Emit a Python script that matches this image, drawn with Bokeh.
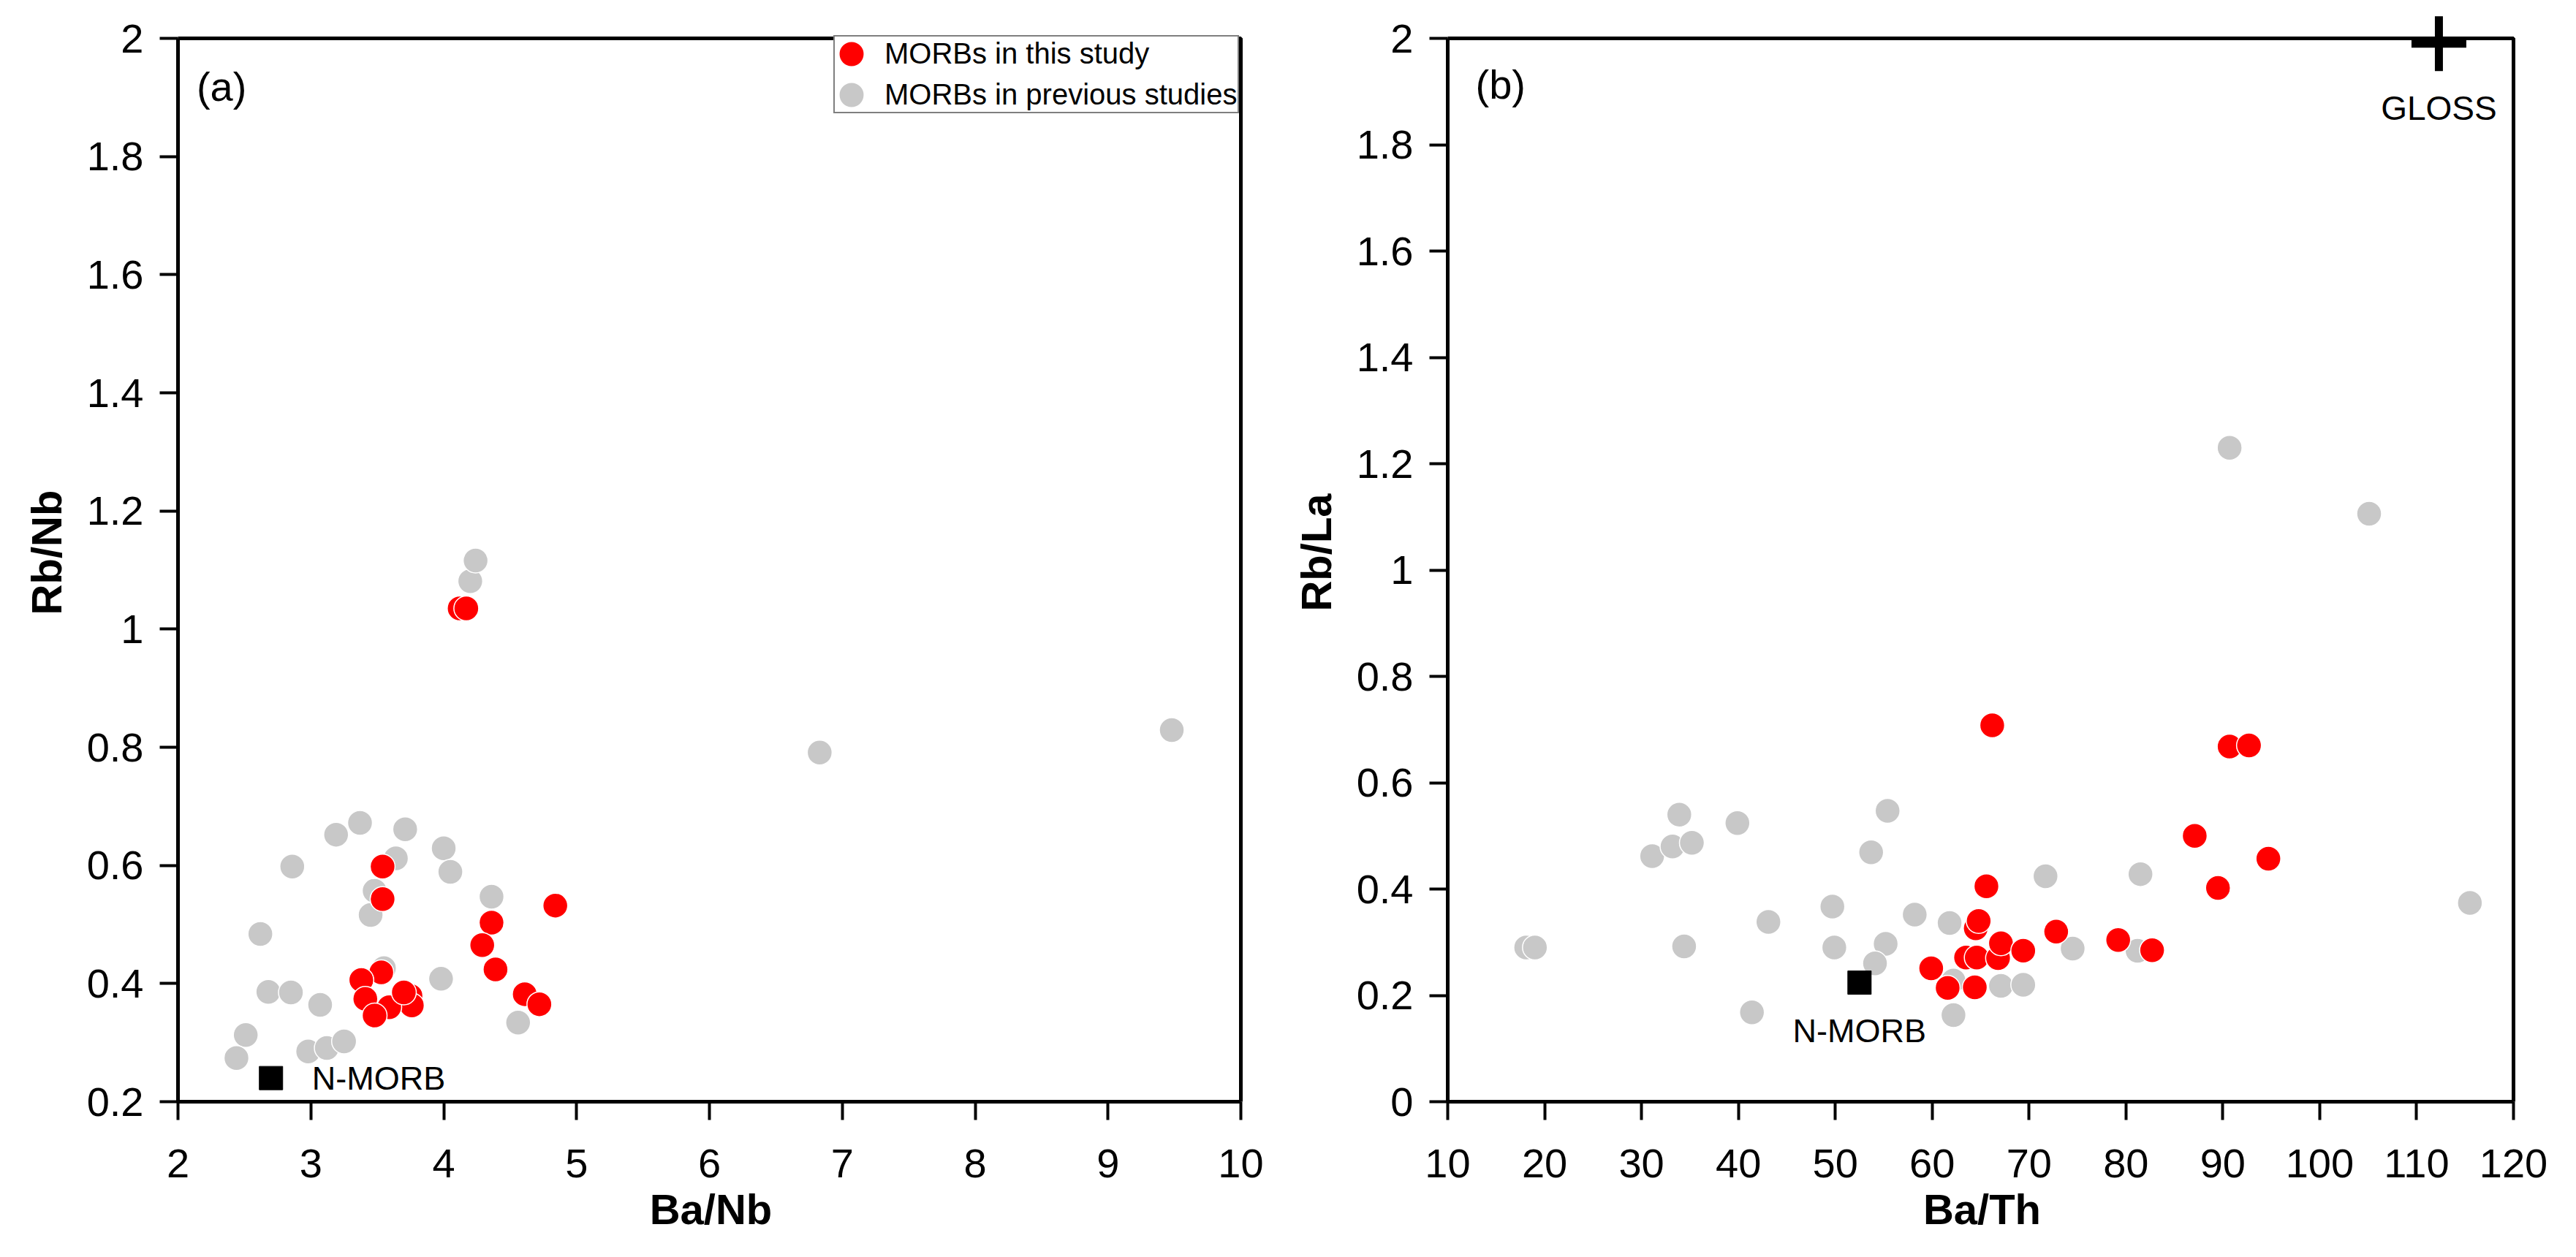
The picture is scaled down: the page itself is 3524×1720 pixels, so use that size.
from bokeh.plotting import figure
from bokeh.layouts import row
from bokeh.models import (ColumnDataSource, Legend, LegendItem, Label, FixedTicker,
                          CustomJSTickFormatter, Range1d, BoxAnnotation)
from bokeh.embed import file_html
from bokeh.resources import INLINE
from bokeh.core.properties import value

FONT = "Liberation Sans"
RED = "#FF0000"
GRAY = "#C8C8C8"

# ---------------- Panel (a): Ba/Nb vs Rb/Nb ----------------
a_prev_ba_nb = [3.37, 3.19, 3.71, 4.00, 3.64, 4.05, 2.86, 3.48, 3.45, 4.36, 2.62, 3.98, 3.55,
                2.68, 2.85, 3.07, 2.51, 2.44, 2.98, 3.12, 3.25, 4.56, 4.20, 4.24, 6.83, 9.48]
a_prev_rb_nb = [0.672, 0.652, 0.661, 0.629, 0.612, 0.589, 0.598, 0.557, 0.516, 0.547, 0.484, 0.408, 0.426,
                0.386, 0.385, 0.364, 0.313, 0.274, 0.285, 0.291, 0.302, 0.334, 1.081, 1.116, 0.791, 0.829]
a_this_ba_nb = [3.54, 3.54, 4.84, 4.36, 4.29, 4.39, 3.53, 3.38, 3.41, 3.75, 3.76, 3.59, 3.48,
                4.61, 4.72, 4.12, 4.17, 3.70]
a_this_rb_nb = [0.598, 0.543, 0.532, 0.503, 0.465, 0.424, 0.419, 0.406, 0.374, 0.379, 0.363, 0.360, 0.346,
                0.382, 0.365, 1.035, 1.035, 0.385]
nmorb_ba_nb = [2.70]
nmorb_rb_nb = [0.24]

a_x_ticks = [2, 3, 4, 5, 6, 7, 8, 9, 10]
a_x_labels = ["2", "3", "4", "5", "6", "7", "8", "9", "10"]
a_y_ticks = [0.2, 0.4, 0.6, 0.8, 1.0, 1.2, 1.4, 1.6, 1.8, 2.0]
a_y_labels = ["0.2", "0.4", "0.6", "0.8", "1", "1.2", "1.4", "1.6", "1.8", "2"]

# ---------------- Panel (b): Ba/Th vs Rb/La ----------------
b_prev_ba_th = [18.1, 19.0, 31.1, 33.2, 33.9, 35.2, 34.4, 39.9, 43.1, 41.4, 49.7, 49.9, 53.7, 55.4,
                55.2, 54.1, 58.2, 61.8, 62.2, 62.2, 67.1, 69.4, 71.7, 74.5, 81.5, 81.2, 90.7, 105.1, 115.5]
b_prev_rb_la = [0.290, 0.290, 0.462, 0.480, 0.540, 0.487, 0.292, 0.524, 0.338, 0.168, 0.367, 0.290, 0.469, 0.547,
                0.297, 0.260, 0.352, 0.336, 0.163, 0.228, 0.218, 0.220, 0.424, 0.288, 0.428, 0.284, 1.23, 1.106, 0.374]
b_this_ba_th = [59.9, 61.6, 64.4, 63.5, 64.6, 66.8, 64.5, 64.8, 65.6, 66.2, 67.1, 69.4, 72.8, 79.2,
                82.7, 87.1, 89.5, 90.7, 92.7, 94.7]
b_this_rb_la = [0.251, 0.214, 0.215, 0.271, 0.271, 0.270, 0.326, 0.340, 0.405, 0.708, 0.298, 0.284, 0.320, 0.304,
                0.285, 0.500, 0.402, 0.668, 0.670, 0.457]
nmorb_ba_th = [52.5]
nmorb_rb_la = [0.224]
gloss_ba_th = [112.3]
gloss_rb_la = [1.99]

b_x_ticks = [10, 20, 30, 40, 50, 60, 70, 80, 90, 100, 110, 120]
b_x_labels = ["10", "20", "30", "40", "50", "60", "70", "80", "90", "100", "110", "120"]
b_y_ticks = [0.0, 0.2, 0.4, 0.6, 0.8, 1.0, 1.2, 1.4, 1.6, 1.8, 2.0]
b_y_labels = ["0", "0.2", "0.4", "0.6", "0.8", "1", "1.2", "1.4", "1.6", "1.8", "2"]

# ---------------- layout constants (pixels) ----------------
BOX_H = 1455            # height of the boxed plot area
TOP = 52                # page space above the boxed plot area
EXTRA_TOP = 48          # unboxed room above the box (lets the GLOSS cross stick out)
EXTRA_RIGHT = 4         # room right of the box so its right edge is not clipped


def fmt(ticks, labels):
    return CustomJSTickFormatter(args=dict(tvals=ticks, tlabels=labels), code="""
        const i = tvals.findIndex(t => Math.abs(t - tick) < 1e-6);
        return i >= 0 ? tlabels[i] : "";
    """)


def make_fig(xr, yr, xt, xl, yt, yl, xtitle, ytitle, bl, box_w, br):
    ux = (xr[1] - xr[0]) / box_w
    uy = (yr[1] - yr[0]) / BOX_H
    p = figure(x_range=Range1d(xr[0], xr[1] + EXTRA_RIGHT * ux),
               y_range=Range1d(yr[0], yr[1] + EXTRA_TOP * uy),
               frame_width=box_w + EXTRA_RIGHT, frame_height=BOX_H + EXTRA_TOP,
               min_border_left=bl, min_border_right=br - EXTRA_RIGHT,
               min_border_top=TOP - EXTRA_TOP, min_border_bottom=200,
               title=None, output_backend="svg", toolbar_location=None,
               background_fill_color="white", border_fill_color="white")
    p.grid.visible = False
    p.outline_line_color = None
    for ax, ticks, labels, title, bounds in [(p.xaxis[0], xt, xl, xtitle, xr),
                                             (p.yaxis[0], yt, yl, ytitle, yr)]:
        ax.bounds = bounds
        ax.ticker = FixedTicker(ticks=ticks)
        ax.formatter = fmt(ticks, labels)
        ax.axis_label = title
        ax.axis_label_text_font = FONT
        ax.axis_label_text_font_style = "bold"
        ax.axis_label_text_font_size = "58px"
        ax.axis_label_text_color = "black"
        ax.major_label_text_font = FONT
        ax.major_label_text_font_size = "56px"
        ax.major_label_text_color = "black"
        ax.axis_line_width = 5
        ax.axis_line_color = "black"
        ax.major_tick_line_width = 4
        ax.major_tick_line_color = "black"
        ax.major_tick_in = 0
        ax.major_tick_out = 25
        ax.minor_tick_line_color = None
    p.xaxis.major_label_standoff = 40
    p.xaxis.axis_label_standoff = 8
    p.yaxis.major_label_standoff = 22
    p.yaxis.axis_label_standoff = 20
    p.add_layout(BoxAnnotation(left=xr[0], right=xr[1], bottom=yr[0], top=yr[1],
                               fill_alpha=0, fill_color=None,
                               line_color="black", line_width=5, line_alpha=1))
    return p


def pts(p, x, y, color):
    src = ColumnDataSource(dict(x=x, y=y))
    return p.ellipse(x="x", y="y", width=34, height=34, width_units="screen", height_units="screen",
                     source=src, fill_color=color, line_color="white", line_width=1.5)


# ---- panel a
A_BOX_W = 1454
pa = make_fig((2, 10), (0.2, 2), a_x_ticks, a_x_labels, a_y_ticks, a_y_labels,
              "Ba/Nb", "Rb/Nb", 243, A_BOX_W, 55)
ra_prev = pts(pa, a_prev_ba_nb, a_prev_rb_nb, GRAY)
ra_this = pts(pa, a_this_ba_nb, a_this_rb_nb, RED)
pa.scatter(nmorb_ba_nb, nmorb_rb_nb, marker="square", size=32, fill_color="black", line_color="black")
pa.text(x=nmorb_ba_nb, y=nmorb_rb_nb, text=["N-MORB"], x_offset=56, text_baseline="middle",
        text_align="left", text_font=value(FONT), text_font_size="45px", text_color="black")
pa.add_layout(Label(x=2.14, y=1.957, text="(a)", text_baseline="top", text_align="left",
                    text_font=FONT, text_font_size="56px", text_color="black"))
LEG_W, LEG_H = 551, 104
legend = Legend(items=[LegendItem(label="MORBs in this study", renderers=[ra_this]),
                       LegendItem(label="MORBs in previous studies", renderers=[ra_prev])],
                location=(A_BOX_W - 6 - LEG_W, BOX_H + 1 - LEG_H), margin=0, padding=1, spacing=11,
                glyph_width=43, glyph_height=43, label_standoff=24,
                label_text_font=FONT, label_text_font_size="40px", label_text_color="black",
                border_line_color="black", border_line_width=2, background_fill_alpha=1)
pa.add_layout(legend)

# ---- panel b
pb = make_fig((10, 120), (0, 2), b_x_ticks, b_x_labels, b_y_ticks, b_y_labels,
              "Ba/Th", "Rb/La", 228, 1458, 60)
pts(pb, b_prev_ba_th, b_prev_rb_la, GRAY)
pts(pb, b_this_ba_th, b_this_rb_la, RED)
pb.scatter(nmorb_ba_th, nmorb_rb_la, marker="square", size=32, fill_color="black", line_color="black")
pb.text(x=nmorb_ba_th, y=nmorb_rb_la, text=["N-MORB"], y_offset=40, text_baseline="top",
        text_align="center", text_font=value(FONT), text_font_size="45px", text_color="black")
pb.scatter(gloss_ba_th, gloss_rb_la, marker="cross", size=75, line_width=11, line_color="black")
pb.text(x=gloss_ba_th, y=gloss_rb_la, text=["GLOSS"], y_offset=62, text_baseline="top",
        text_align="center", text_font=value(FONT), text_font_size="46px", text_color="black")
pb.add_layout(Label(x=12.87, y=1.957, text="(b)", text_baseline="top", text_align="left",
                    text_font=FONT, text_font_size="56px", text_color="black"))

layout = row(pa, pb)
open("out.html", "w").write(file_html(layout, INLINE))
